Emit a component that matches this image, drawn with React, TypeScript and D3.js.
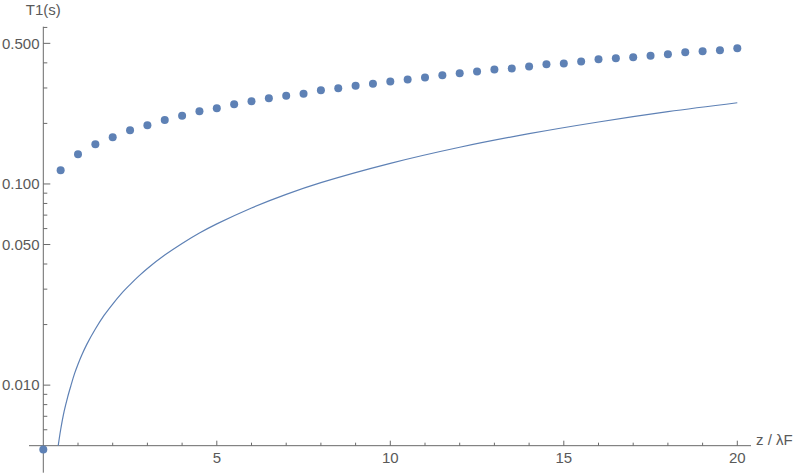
import React from "react";
import * as d3 from "d3";

const zDots = [0, 0.5, 1, 1.5, 2, 2.5, 3, 3.5, 4, 4.5, 5, 5.5, 6, 6.5, 7, 7.5, 8, 8.5, 9, 9.5, 10, 10.5, 11, 11.5, 12, 12.5, 13, 13.5, 14, 14.5, 15, 15.5, 16, 16.5, 17, 17.5, 18, 18.5, 19, 19.5, 20];
const tDots = [0.00478, 0.117, 0.1404, 0.1575, 0.1706, 0.1848, 0.1957, 0.2079, 0.2185, 0.2297, 0.2377, 0.2488, 0.2575, 0.2665, 0.2746, 0.2809, 0.292, 0.2988, 0.3078, 0.3149, 0.3229, 0.3304, 0.3381, 0.3467, 0.3548, 0.3622, 0.3706, 0.3749, 0.3836, 0.3933, 0.3969, 0.4061, 0.4165, 0.4212, 0.4261, 0.434, 0.441, 0.4512, 0.4563, 0.4616, 0.4722];

const zLine = [0.43, 0.5, 0.6, 0.7, 0.8, 0.9, 1.0, 1.1, 1.25, 1.5, 1.75, 2.0, 2.25, 2.5, 2.75, 3.0, 3.5, 4.0, 4.5, 5.0, 6.0, 7.0, 8.0, 10, 12, 14, 16, 18, 20];
const tLine = [0.005, 0.006, 0.0074, 0.0087, 0.01, 0.0114, 0.0127, 0.014, 0.0159, 0.019, 0.0222, 0.0253, 0.0285, 0.0316, 0.0348, 0.038, 0.0443, 0.0506, 0.057, 0.0633, 0.076, 0.0888, 0.1015, 0.1266, 0.1522, 0.1778, 0.2033, 0.2288, 0.2534];

const yMajor = [0.5, 0.1, 0.05, 0.01];
const yMajorLabels = ["0.500", "0.100", "0.050", "0.010"];
const yMinor = [0.6, 0.4, 0.3, 0.2, 0.09, 0.08, 0.07, 0.06, 0.04, 0.03, 0.02, 0.009, 0.008, 0.007, 0.006];
const xMajor = [5, 10, 15, 20];
const xMinor = [1, 2, 3, 4, 6, 7, 8, 9, 11, 12, 13, 14, 16, 17, 18, 19];

const W = 800;
const H = 474;
const BLUE = "#5E81B5";
const AXIS = "#6a6a6a";
const TEXT = "#595959";
const FONT = "'Liberation Sans', Arial, sans-serif";

export default function App() {
  const x = d3.scaleLinear().domain([0, 20]).range([43.3, 737.3]);
  const y = d3.scaleLog().domain([0.00367, 0.605]).range([472.7, 26.7]);
  const x0 = x(0);
  const yAxisPos = y(0.005);

  const linePath = d3
    .line<number>()
    .x((_, i) => x(zLine[i]))
    .y((d) => y(d))
    .curve(d3.curveCatmullRom.alpha(0.5))(tLine);

  return (
    <>
      <style>{`body{margin:0;background:#fff}`}</style>
      <svg width={W} height={H} style={{ display: "block" }} fontFamily={FONT}>
        <rect width={W} height={H} fill="#fff" />
        {/* axes */}
        <line x1={x0} x2={x0} y1={26.7} y2={472.7} stroke={AXIS} strokeWidth={1} />
        <line x1={29} x2={751} y1={yAxisPos} y2={yAxisPos} stroke={AXIS} strokeWidth={1} />
        {/* y ticks */}
        {yMajor.map((v, i) => (
          <g key={"ym" + i}>
            <line x1={x0} x2={x0 + 7} y1={y(v)} y2={y(v)} stroke={AXIS} />
            <text x={39.5} y={y(v)} dy="0.35em" textAnchor="end" fontSize={15} fill={TEXT}>
              {yMajorLabels[i]}
            </text>
          </g>
        ))}
        {yMinor.map((v, i) => (
          <line key={"yn" + i} x1={x0} x2={x0 + 4} y1={y(v)} y2={y(v)} stroke={AXIS} />
        ))}
        {/* x ticks */}
        {xMajor.map((v, i) => (
          <g key={"xm" + i}>
            <line x1={x(v)} x2={x(v)} y1={yAxisPos} y2={yAxisPos - 5} stroke={AXIS} />
            <text x={x(v)} y={463} textAnchor="middle" fontSize={15} fill={TEXT}>
              {v}
            </text>
          </g>
        ))}
        {xMinor.map((v, i) => (
          <line key={"xn" + i} x1={x(v)} x2={x(v)} y1={yAxisPos} y2={yAxisPos - 3} stroke={AXIS} />
        ))}
        {/* axis labels */}
        <text x={x0} y={14.5} textAnchor="middle" fontSize={15} fill={TEXT}>
          T1(s)
        </text>
        <text x={756} y={444.5} textAnchor="start" fontSize={15} fill={TEXT}>
          z / λF
        </text>
        {/* line */}
        <path d={linePath || ""} fill="none" stroke={BLUE} strokeWidth={1.2} />
        {/* points */}
        {tDots.map((v, i) => (
          <circle key={"d" + i} cx={x(zDots[i])} cy={y(v)} r={4} fill={BLUE} />
        ))}
      </svg>
    </>
  );
}
